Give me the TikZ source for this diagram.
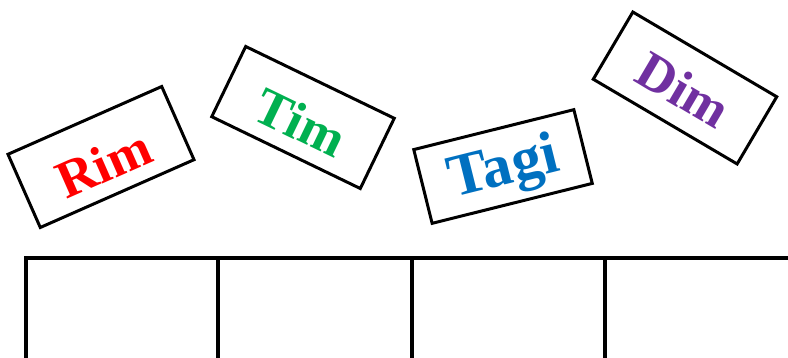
\documentclass[tikz,border=0pt]{standalone}
\usepackage{fontspec}
\setmainfont{Liberation Serif}
\definecolor{cRed}{HTML}{FF0000}
\definecolor{cGreen}{HTML}{00B050}
\definecolor{cBlue}{HTML}{0070C0}
\definecolor{cPurple}{HTML}{7030A0}
\newcommand{\lowered}[2]{\raisebox{-#1}[\height][\depth]{#2}}
\begin{document}
\begin{tikzpicture}[x=1pt,y=-1pt,
  card/.style={draw=black, line width=3pt, fill=white, inner sep=0pt,
    font=\fontsize{53}{57}\selectfont\bfseries},
  gridline/.style={line width=3.4pt, line cap=rect}]
\useasboundingbox (0,0) rectangle (788,358);
\clip (0,0) rectangle (788,358);
% cards
\node[card, text=cRed, minimum width=168pt, minimum height=80pt, rotate=23.8] (rim) at (101,157) {\lowered{7pt}{Rim}};
\node[card, text=cGreen, minimum width=165pt, minimum height=78pt, rotate=-25.8] (tim) at (303,117.5) {\lowered{5pt}{Tim}};
\node[card, text=cBlue, minimum width=165pt, minimum height=76pt, rotate=14,
  font=\fontsize{60}{64}\selectfont\bfseries] (tagi) at (503,166.5) {\lowered{4pt}{Tagi}};
\node[card, text=cPurple, minimum width=167pt, minimum height=78pt, rotate=-30.5] (dim) at (685,88) {\lowered{2pt}{Dim}};
% grid
\coordinate (g0) at (26,258);
\coordinate (gR) at (800,258);
\coordinate (b0) at (26,370);
\coordinate (t1) at (218,258);
\coordinate (b1) at (218,370);
\coordinate (t2) at (412,258);
\coordinate (b2) at (412,370);
\coordinate (t3) at (605,258);
\coordinate (b3) at (605,370);
\draw[gridline] (b0) -- (g0) -- (gR);
\draw[gridline] (t1) -- (b1);
\draw[gridline] (t2) -- (b2);
\draw[gridline] (t3) -- (b3);
\end{tikzpicture}
\end{document}
